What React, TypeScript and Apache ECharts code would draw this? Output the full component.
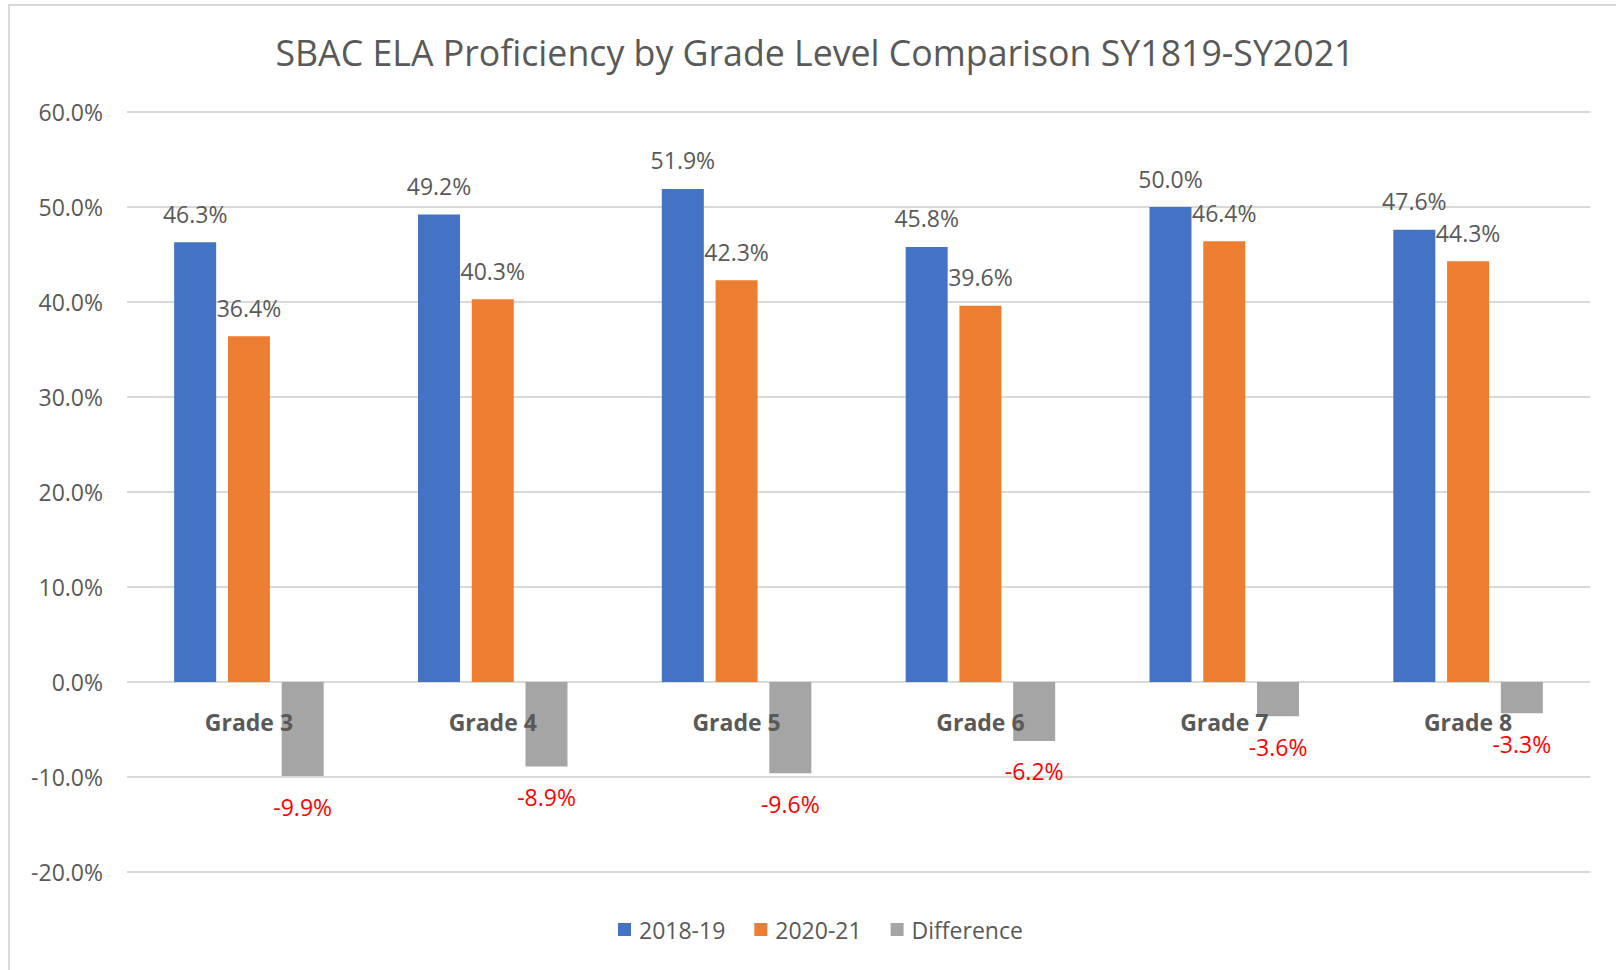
import React, { useEffect, useRef } from "react";
import * as echarts from "echarts";

const categories = ["Grade 3", "Grade 4", "Grade 5", "Grade 6", "Grade 7", "Grade 8"];
const values1819 = [46.3, 49.2, 51.9, 45.8, 50.0, 47.6];
const values2021 = [36.4, 40.3, 42.3, 39.6, 46.4, 44.3];
const valuesDiff = [-9.9, -8.9, -9.6, -6.2, -3.6, -3.3];
const seriesNames = ["2018-19", "2020-21", "Difference"];
const titleText = "SBAC ELA Proficiency by Grade Level Comparison SY1819-SY2021";

const FONT = "'Open Sans', 'Noto Sans', sans-serif";
const GRAY_TEXT = "#595959";

export default function App() {
  const ref = useRef<HTMLDivElement>(null);
  useEffect(() => {
    if (!ref.current) return;
    const chart = echarts.init(ref.current, null, { renderer: "svg" });
    const fmt = (p: any) => Number(p.value).toFixed(1) + "%";
    chart.setOption({
      animation: false,
      backgroundColor: "#ffffff",
      textStyle: { fontFamily: FONT },
      graphic: [
        {
          type: "polyline",
          shape: { points: [[9, 975], [9, 5], [1620, 5]] },
          style: { stroke: "#d9d9d9", lineWidth: 2, fill: "none" },
          silent: true,
        },
        {
          type: "text",
          x: 815,
          y: 52,
          style: {
            text: titleText,
            fill: GRAY_TEXT,
            font: `35.7px ${FONT}`,
            align: "center",
            verticalAlign: "middle",
          },
        },
      ],
      legend: {
        left: 613,
        top: 913,
        itemWidth: 13,
        itemHeight: 13,
        itemGap: 29,
        icon: "rect",
        data: seriesNames,
        textStyle: { color: GRAY_TEXT, fontSize: 23, fontFamily: FONT, padding: [0, 0, 0, 3] },
      },
      grid: { left: 127, right: 26, top: 112, bottom: 98, containLabel: false },
      xAxis: {
        type: "category",
        data: categories,
        z: 10,
        axisLine: { show: false, onZero: false },
        axisTick: { show: false },
        axisLabel: {
          color: GRAY_TEXT,
          fontSize: 23,
          fontWeight: "bold",
          fontFamily: FONT,
          margin: -162,
        },
      },
      yAxis: {
        type: "value",
        min: -20,
        max: 60,
        interval: 10,
        axisLine: { show: false },
        axisTick: { show: false },
        splitLine: { lineStyle: { color: "#d9d9d9", width: 2 } },
        axisLabel: {
          color: GRAY_TEXT,
          fontSize: 23,
          fontFamily: FONT,
          margin: 24,
          formatter: (v: number) => v.toFixed(1) + "%",
        },
      },
      series: [
        {
          name: seriesNames[0],
          type: "bar",
          data: values1819,
          barWidth: 42,
          barGap: "28%",
          itemStyle: { color: "#4472C4" },
          label: { show: true, position: "top", distance: 17, color: GRAY_TEXT, fontSize: 23, fontFamily: FONT, formatter: fmt },
        },
        {
          name: seriesNames[1],
          type: "bar",
          data: values2021,
          barWidth: 42,
          barGap: "28%",
          itemStyle: { color: "#ED7D31" },
          label: { show: true, position: "top", distance: 17, color: GRAY_TEXT, fontSize: 23, fontFamily: FONT, formatter: fmt },
        },
        {
          name: seriesNames[2],
          type: "bar",
          data: valuesDiff,
          barWidth: 42,
          barGap: "28%",
          itemStyle: { color: "#A5A5A5" },
          label: { show: true, position: "bottom", distance: 19, color: "#FF0000", fontSize: 23, fontFamily: FONT, formatter: fmt },
        },
      ],
    });
    return () => chart.dispose();
  }, []);
  return (
    <div
      ref={ref}
      style={{ position: "fixed", left: 0, top: 0, width: 1616, height: 970 }}
    />
  );
}
